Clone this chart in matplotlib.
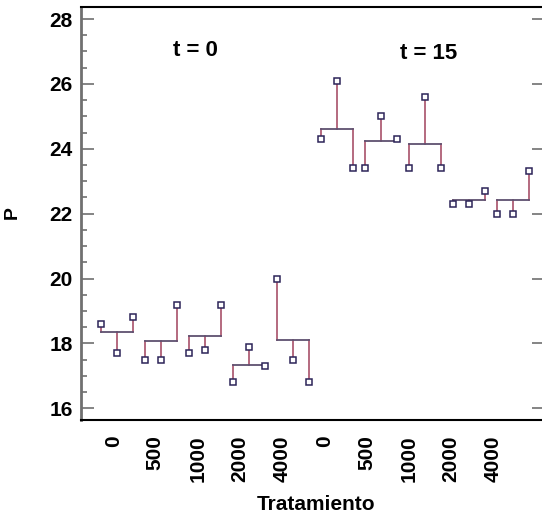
import matplotlib
matplotlib.use("Agg")
import matplotlib.pyplot as plt
import numpy as np
from matplotlib.ticker import MultipleLocator

# datos (3 replicas por tratamiento)
tratamientos = ["0", "500", "1000", "2000", "4000"]
tiempos = ["t = 0", "t = 15"]
p_t0 = [[18.6, 17.7, 18.8],
        [17.5, 17.5, 19.2],
        [17.7, 17.8, 19.2],
        [16.8, 17.9, 17.3],
        [20.0, 17.5, 16.8]]
p_t15 = [[24.3, 26.1, 23.4],
         [23.4, 25.0, 24.3],
         [23.4, 25.6, 23.4],
         [22.3, 22.3, 22.7],
         [22.0, 22.0, 23.3]]

plt.rcParams['font.family'] = ['Liberation Sans', 'DejaVu Sans']
plt.rcParams['font.weight'] = 'bold'

fig = plt.figure(figsize=(5.42, 5.18), dpi=100)
ax = fig.add_axes([81/542, 1-420/518, (544-81)/542, (420-7)/518])

grupos = p_t0 + p_t15
desp = np.array([-0.36, 0.0, 0.36])   # posicion de las replicas dentro del grupo
for i, vals in enumerate(grupos):
    xc = i + 1
    xs = xc + desp
    media = np.mean(vals)
    # lineas verticales hasta la media
    for x, v in zip(xs, vals):
        ax.plot([x, x], [v, media], color="#a8506a", lw=1.2, zorder=2)
    ax.plot([xs[0], xs[-1]], [media, media], color="#5e5070", lw=1.3, zorder=2)
    ax.plot(xs, vals, ls="none", marker="s", ms=4.8, mfc="white",
            mec="#2c2458", mew=1.1, zorder=3)

ax.set_xlim(0.18, 10.70)
ax.set_ylim(15.64, 28.37)

# etiquetas de x (un poco desplazadas, como en el original)
ticks_x = 0.91 + 0.96 * np.arange(10)
ax.set_xticks(ticks_x)
ax.set_xticklabels(tratamientos * 2, rotation=90, va="top", ha="center")
ax.tick_params(axis="x", length=0, pad=11, labelsize=15)

ax.yaxis.set_major_locator(MultipleLocator(2))
ax.yaxis.set_minor_locator(MultipleLocator(0.5))
ax.tick_params(axis="y", which="major", direction="in", length=9, width=1.2,
               color="#707070", labelsize=15, pad=6, right=True)
ax.tick_params(axis="y", which="minor", direction="in", length=4, width=1.2,
               color="#707070", right=False)

ax.spines["left"].set_color("#707070")
ax.spines["left"].set_linewidth(2)
ax.spines["top"].set_linewidth(1.5)
ax.spines["bottom"].set_linewidth(1.5)
ax.spines["right"].set_visible(False)

ax.text(2.77, 27.04, tiempos[0], fontsize=16, fontweight="bold", ha="center", va="center")
ax.text(8.07, 26.95, tiempos[1], fontsize=16, fontweight="bold", ha="center", va="center")

fig.text(12/542, 1-213/518, "P", rotation=90, fontsize=14, fontweight="bold",
         ha="center", va="center")
fig.text(316/542, 1-505/518, "Tratamiento", fontsize=15, fontweight="bold",
         ha="center", va="center")

fig.savefig("out.png", dpi=100)
